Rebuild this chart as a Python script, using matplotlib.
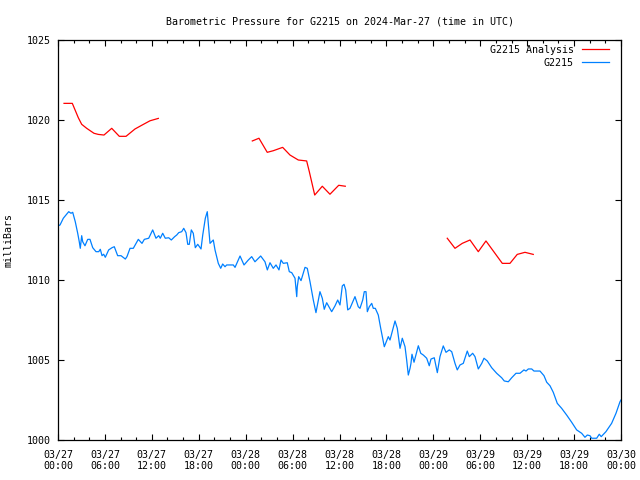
import numpy as np
import pandas as pd
import matplotlib
matplotlib.use("Agg")
import matplotlib.pyplot as plt
import matplotlib.dates as mdates

# hours since 2024-03-27 00:00 UTC, pressure in mb
station_hours = [
    0.00, 0.26, 0.68, 1.37, 1.66, 1.88, 2.21, 2.52, 2.72, 2.85, 3.03, 3.16, 3.45, 3.80,
    4.09, 4.44, 4.86, 5.21, 5.41, 5.63, 5.84, 6.05, 6.48, 6.91, 7.20, 7.63, 8.06, 8.61,
    8.82, 9.21, 9.63, 10.27, 10.74, 11.04, 11.60, 12.11, 12.53, 12.88, 13.08, 13.39,
    13.72, 14.16, 14.49, 14.92, 15.18, 15.44, 15.82, 16.08, 16.37, 16.59, 16.79, 17.05,
    17.30, 17.56, 17.87, 18.29, 18.51, 18.84, 19.09, 19.44, 19.86, 20.08, 20.50, 20.81,
    21.06, 21.36, 21.57, 22.42, 22.64, 23.28, 23.79, 24.34, 24.77, 25.19, 25.92, 26.47,
    26.77, 27.11, 27.53, 27.88, 28.26, 28.52, 28.81, 29.32, 29.58, 29.89, 30.31, 30.53,
    30.60, 30.78, 31.08, 31.59, 31.88, 32.23, 32.65, 32.99, 33.50, 33.80, 34.05, 34.36,
    35.00, 35.42, 35.77, 36.06, 36.36, 36.58, 36.79, 37.05, 37.34, 37.98, 38.40, 38.62,
    38.97, 39.17, 39.39, 39.56, 39.81, 40.12, 40.32, 40.58, 40.96, 41.27, 41.73, 42.24,
    42.46, 42.80, 43.10, 43.39, 43.74, 44.03, 44.38, 44.59, 44.80, 45.02, 45.14, 45.27,
    45.53, 46.08, 46.39, 46.72, 47.15, 47.48, 47.70, 48.12, 48.51, 48.85, 49.27, 49.62,
    50.04, 50.35, 50.77, 51.06, 51.41, 51.83, 52.34, 52.60, 53.03, 53.33, 53.75, 54.19,
    54.48, 54.90, 55.46, 56.10, 56.74, 57.07, 57.59, 58.02, 58.57, 59.08, 59.59, 59.85,
    60.15, 60.58, 60.87, 61.64, 62.15, 62.50, 62.92, 63.34, 63.85, 64.41, 65.05, 65.69,
    66.33, 66.97, 67.39, 67.69, 68.03, 68.25, 68.89, 69.22, 69.47, 70.07, 70.80, 71.36,
    71.87, 72.00,
]
station_mb = [
    1013.38, 1013.44, 1013.86, 1014.27, 1014.17, 1014.23, 1013.64, 1012.92, 1012.39,
    1011.98, 1012.77, 1012.39, 1012.14, 1012.54, 1012.54, 1012.02, 1011.77, 1011.77,
    1011.92, 1011.52, 1011.61, 1011.42, 1011.88, 1012.02, 1012.08, 1011.52, 1011.52,
    1011.31, 1011.46, 1011.98, 1011.98, 1012.54, 1012.29, 1012.54, 1012.61, 1013.13,
    1012.61, 1012.77, 1012.61, 1012.92, 1012.61, 1012.64, 1012.50, 1012.71, 1012.81,
    1012.96, 1013.02, 1013.23, 1012.96, 1012.23, 1012.23, 1013.13, 1012.92, 1012.02,
    1012.23, 1011.94, 1012.81, 1013.86, 1014.27, 1012.29, 1012.50, 1011.88, 1011.04,
    1010.73, 1011.00, 1010.83, 1010.94, 1010.94, 1010.79, 1011.50, 1010.94, 1011.25,
    1011.46, 1011.14, 1011.50, 1011.14, 1010.63, 1011.08, 1010.73, 1010.94, 1010.63,
    1011.25, 1011.04, 1011.08, 1010.52, 1010.46, 1010.11, 1008.96, 1009.58, 1010.21,
    1009.96, 1010.79, 1010.73, 1009.89, 1008.75, 1007.96, 1009.27, 1008.86, 1008.17,
    1008.58, 1008.02, 1008.38, 1008.75, 1008.44, 1009.63, 1009.73, 1009.38, 1008.13,
    1008.23, 1008.96, 1008.33, 1008.23, 1008.75, 1009.27, 1009.27, 1008.02, 1008.33,
    1008.54, 1008.23, 1008.23, 1007.81, 1006.98, 1005.83, 1006.46, 1006.25, 1006.88,
    1007.44, 1006.98, 1005.73, 1006.36, 1005.83, 1005.00, 1004.06, 1004.48, 1004.79,
    1005.36, 1004.86, 1005.89, 1005.42, 1005.31, 1005.11, 1004.64, 1005.06, 1005.14,
    1004.21, 1005.21, 1005.88, 1005.48, 1005.63, 1005.52, 1004.79, 1004.38, 1004.69,
    1004.79, 1005.56, 1005.21, 1005.42, 1005.21, 1004.44, 1004.79, 1005.11, 1004.94,
    1004.52, 1004.17, 1003.89, 1003.69, 1003.64, 1003.89, 1004.17, 1004.17, 1004.38,
    1004.31, 1004.44, 1004.44, 1004.31, 1004.31, 1004.02, 1003.61, 1003.39, 1002.98,
    1002.29, 1001.98, 1001.56, 1001.11, 1000.63, 1000.42, 1000.17, 1000.31, 1000.27,
    1000.11, 1000.11, 1000.36, 1000.21, 1000.52, 1001.04, 1001.67, 1002.39, 1002.50,
]

# analysis values, NaN marks the gaps between runs
analysis_hours = [
    0.77, 1.83, 2.60, 3.03, 3.67, 4.60, 5.15, 5.88, 6.87, 7.84, 8.70, 9.85, 10.78,
    11.76, 12.83, np.nan,
    24.85, 25.70, 26.76, 27.53, 28.73, 29.67, 30.73, 31.80, 32.14, 32.83, 33.80,
    34.78, 35.90, 36.74, np.nan,
    49.78, 50.77, 51.70, 52.69, 53.75, 54.73, 55.88, 56.82, 57.80, 58.73, 59.72, 60.78,
]
analysis_mb = [
    1021.04, 1021.04, 1020.14, 1019.73, 1019.48, 1019.17, 1019.10, 1019.06, 1019.48,
    1018.98, 1018.98, 1019.44, 1019.69, 1019.95, 1020.10, np.nan,
    1018.69, 1018.86, 1017.98, 1018.08, 1018.29, 1017.81, 1017.50, 1017.44, 1016.77,
    1015.31, 1015.86, 1015.36, 1015.92, 1015.86, np.nan,
    1012.61, 1011.98, 1012.29, 1012.50, 1011.77, 1012.44, 1011.67, 1011.04, 1011.04,
    1011.60, 1011.73, 1011.60,
]

start = pd.Timestamp("2024-03-27 00:00")


def to_num(hours):
    # hours -> matplotlib date numbers (NaN stays NaN)
    return mdates.date2num(start.to_pydatetime()) + np.asarray(hours, dtype=float) / 24.0


plt.rcParams['font.family'] = ['DejaVu Sans Mono']
plt.rcParams['font.size'] = 7.2

fig = plt.figure(figsize=(6.4, 4.8), dpi=100)
ax = fig.add_axes([58 / 640, 40 / 480, 563 / 640, 400 / 480])

ax.plot(to_num(analysis_hours), analysis_mb, color='#ff0000', lw=0.9, label='G2215 Analysis')
ax.plot(to_num(station_hours), station_mb, color='#0080ff', lw=0.9, label='G2215')

ax.xaxis_date()
ax.set_xlim(to_num([0])[0], to_num([72])[0])
ax.set_ylim(1000, 1025)
ax.set_yticks(np.arange(1000, 1026, 5))

ax.xaxis.set_major_locator(mdates.HourLocator(byhour=range(0, 24, 6)))
ax.xaxis.set_minor_locator(mdates.HourLocator(interval=2))
ax.xaxis.set_major_formatter(mdates.DateFormatter('%m/%d\n%H:%M'))

ax.tick_params(which='both', direction='in', top=True, right=True, width=0.8, color='black')
ax.tick_params(which='major', length=4.5)
ax.tick_params(axis='x', which='major', pad=7)
ax.tick_params(axis='y', which='major', pad=5)
ax.tick_params(which='minor', length=2.5)
for sp in ax.spines.values():
    sp.set_linewidth(0.9)

ax.set_title('Barometric Pressure for G2215 on 2024-Mar-27 (time in UTC)', pad=11, fontsize=7.2)
ax.set_ylabel('milliBars', labelpad=10)

leg = ax.legend(loc='upper right', frameon=False, markerfirst=False, handlelength=2.7,
                handletextpad=0.8, labelspacing=0.3, borderaxespad=0,
                bbox_to_anchor=(1 - 8 / 563, 1 - 1 / 400))
for t in leg.get_texts():
    t.set_ha('right')

fig.savefig('out.png', dpi=100)
